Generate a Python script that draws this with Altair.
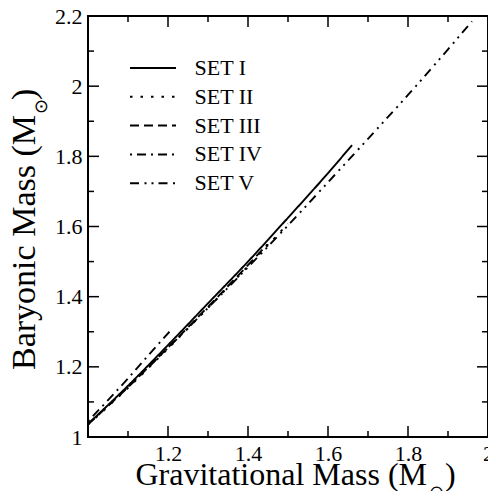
import altair as alt
import pandas as pd

# ---------------- data ----------------
set_names = ["SET I", "SET II", "SET III", "SET IV", "SET V"]

set1_mg = [1.0, 1.1, 1.2, 1.3, 1.4, 1.5, 1.6, 1.66]
set1_mb = [1.037, 1.146, 1.262, 1.381, 1.500, 1.625, 1.752, 1.832]
set2_mg = [1.0, 1.1, 1.2, 1.3, 1.4, 1.5]
set2_mb = [1.035, 1.140, 1.252, 1.368, 1.487, 1.608]
set3_mg = [1.0, 1.1, 1.2, 1.3, 1.4, 1.45]
set3_mb = [1.036, 1.142, 1.255, 1.371, 1.490, 1.551]
set4_mg = [1.0, 1.05, 1.1, 1.15, 1.21]
set4_mb = [1.045, 1.105, 1.167, 1.232, 1.308]
set5_mg = [1.0, 1.1, 1.2, 1.3, 1.4, 1.5, 1.6, 1.7, 1.8, 1.9, 1.96]
set5_mb = [1.037, 1.143, 1.254, 1.368, 1.484, 1.603, 1.726, 1.850, 1.975, 2.105, 2.185]

x_labels = [1.2, 1.4, 1.6, 1.8, 2.0]
y_labels = [1.0, 1.2, 1.4, 1.6, 1.8, 2.0, 2.2]
x_major = [1.2, 1.4, 1.6, 1.8]
x_minor = [1.1, 1.3, 1.5, 1.7, 1.9]
y_major = [1.2, 1.4, 1.6, 1.8, 2.0]
y_minor = [1.1, 1.3, 1.5, 1.7, 1.9, 2.1]

x_title_parts = ["Gravitational Mass (M", "\u2299", ")"]
y_title_parts = ["Baryonic Mass (M", "\u2299", ")"]

# ---------------- build ----------------
W, H = 400, 421
FONT = "Liberation Serif"
XDOM = [1.0, 2.0]
YDOM = [1.0, 2.2]

rows = []
for name, xs, ys in zip(set_names,
                        [set1_mg, set2_mg, set3_mg, set4_mg, set5_mg],
                        [set1_mb, set2_mb, set3_mb, set4_mb, set5_mb]):
    for i, (a, b) in enumerate(zip(xs, ys)):
        rows.append({"set": name, "mg": a, "mb": b, "i": i})
df = pd.DataFrame(rows)

xscale = alt.Scale(domain=XDOM, nice=False, zero=False)
yscale = alt.Scale(domain=YDOM, nice=False, zero=False)

xaxis = alt.Axis(values=x_labels, format="~g", title=None, ticks=False, domain=False,
                 grid=False, labelFlush=False, labelOverlap=False, labelPadding=6,
                 labelFont=FONT, labelFontSize=22, labelColor="black")
yaxis = alt.Axis(values=y_labels, format="~g", title=None, ticks=False, domain=False,
                 grid=False, labelFlush=False, labelOverlap=False, labelPadding=6,
                 labelFont=FONT, labelFontSize=22, labelColor="black")

dash_range = [[1, 0], [2.5, 8], [9, 5], [2, 5, 9, 5], [9, 5.5, 2, 5, 2, 5]]

lines = alt.Chart(df).mark_line(color="black", strokeWidth=1.9, interpolate="monotone").encode(
    x=alt.X("mg:Q", scale=xscale, axis=xaxis),
    y=alt.Y("mb:Q", scale=yscale, axis=yaxis),
    strokeDash=alt.StrokeDash("set:N", scale=alt.Scale(domain=set_names, range=dash_range),
                              legend=alt.Legend(title=None, orient="none", legendX=54, legendY=41,
                                                symbolType="M-10,0H10", symbolSize=21.16,
                                                symbolStrokeWidth=2, symbolStrokeColor="black",
                                                symbolFillColor="transparent",
                                                labelFont=FONT, labelFontSize=22, labelColor="black",
                                                labelOffset=30.5, rowPadding=6.8)),
    order="i:Q",
)

layers = [lines]

def xticks(vals, length):
    d = pd.DataFrame({"v": vals})
    bottom = alt.Chart(d).mark_rule(color="black", strokeWidth=1.5).encode(
        x=alt.X("v:Q", scale=xscale, axis=xaxis), y=alt.value(H), y2=alt.value(H - length))
    top = alt.Chart(d).mark_rule(color="black", strokeWidth=1.5).encode(
        x=alt.X("v:Q", scale=xscale, axis=xaxis), y=alt.value(0), y2=alt.value(length))
    return [bottom, top]

def yticks(vals, length):
    d = pd.DataFrame({"v": vals})
    left = alt.Chart(d).mark_rule(color="black", strokeWidth=1.5).encode(
        y=alt.Y("v:Q", scale=yscale, axis=yaxis), x=alt.value(0), x2=alt.value(length))
    right = alt.Chart(d).mark_rule(color="black", strokeWidth=1.5).encode(
        y=alt.Y("v:Q", scale=yscale, axis=yaxis), x=alt.value(W), x2=alt.value(W - length))
    return [left, right]

layers += xticks(x_major, 11) + xticks(x_minor, 6) + yticks(y_major, 11) + yticks(y_minor, 6)

def txt(s, x, y, size, align, angle=0):
    return alt.Chart(pd.DataFrame({"t": [s]})).mark_text(
        font=FONT, fontSize=size, align=align, baseline="alphabetic", angle=angle, color="black"
    ).encode(text="t:N", x=alt.value(x), y=alt.value(y))

# x title pieces
layers.append(txt(x_title_parts[0], 339, 469, 32, "right"))
layers.append(txt(x_title_parts[1], 348.5, 482, 18, "center"))
layers.append(txt(x_title_parts[2], 357, 469, 32, "left"))
# y title pieces (rotated)
layers.append(txt(y_title_parts[0], -53, 99, 34, "right", 270))
layers.append(txt(y_title_parts[1], -41.5, 90.5, 18, "center", 270))
layers.append(txt(y_title_parts[2], -53, 84, 34, "left", 270))

chart = alt.layer(*layers).properties(
    width=W, height=H,
    background="white",
    autosize=alt.AutoSizeParams(type="none"),
    padding={"left": 80, "top": 8, "right": 0, "bottom": 54},
).configure_view(stroke="black", strokeWidth=2)

chart.save("out.html", embed_options={"renderer": "svg", "actions": False})
